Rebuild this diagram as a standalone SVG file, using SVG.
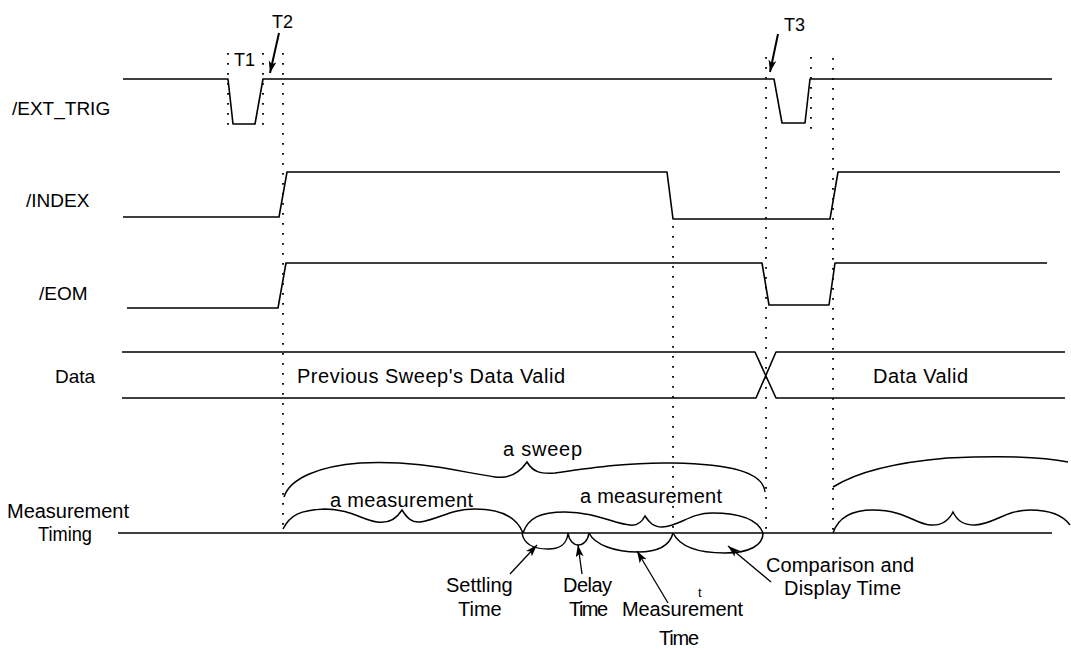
<svg xmlns="http://www.w3.org/2000/svg" width="1071" height="650" viewBox="0 0 1071 650">
<style>
  .sig{fill:none;stroke:#000;stroke-width:1.6;stroke-linejoin:round}
  .dot{fill:none;stroke:#000;stroke-width:1.8;stroke-dasharray:1.8 8.2}
  .brace{fill:none;stroke:#000;stroke-width:1.5}
  .arr{fill:none;stroke:#000;stroke-width:1.3}
  .arrb{fill:none;stroke:#000;stroke-width:2}
  text{font-family:"Liberation Sans",Arial,sans-serif;font-size:20px;fill:#000}
  .lbl{font-size:19px}
  .t{font-size:18px}
</style>
<defs>
  <marker id="ah" markerUnits="userSpaceOnUse" markerWidth="13" markerHeight="9" refX="12" refY="4" orient="auto">
    <path d="M0,0 L12,4 L0,8 L3,4 z" fill="#000"/>
  </marker>
</defs>
<rect width="1071" height="650" fill="#fff"/>

<g id="guides">
  <line class="dot" x1="228" y1="53" x2="228" y2="128"/>
  <line class="dot" x1="263" y1="53" x2="263" y2="130"/>
  <line class="dot" x1="283" y1="53" x2="283" y2="533"/>
  <line class="dot" x1="673" y1="226" x2="673" y2="533"/>
  <line class="dot" x1="766" y1="57" x2="766" y2="533"/>
  <line class="dot" x1="811" y1="57" x2="811" y2="130"/>
  <line class="dot" x1="833" y1="58" x2="833" y2="533"/>
</g>

<g id="ext_trig">
  <text class="lbl" x="12" y="115">/EXT_TRIG</text>
  <path class="sig" d="M123,79 H228 L233,124 H255 L263,79 H774 L782,123 H805 L810,79 H1052"/>
  <text class="t" x="234" y="66">T1</text>
  <text class="t" x="272" y="28">T2</text>
  <text class="t" x="784" y="31">T3</text>
</g>

<g id="index">
  <text class="lbl" x="26" y="207">/INDEX</text>
  <path class="sig" d="M123,217 H279 L287,172 H667 L673,219 H830 L838,172 H1060"/>
</g>

<g id="eom">
  <text class="lbl" x="39" y="300">/EOM</text>
  <path class="sig" d="M127,308 H278 L286,263 H762 L769,305 H829 L835,263 H1047"/>
</g>

<g id="data">
  <text class="lbl" x="55" y="383">Data</text>
  <path class="sig" d="M122,352 H755 L776,398 H1065"/>
  <path class="sig" d="M122,398 H756 L776,352 H1065"/>
  <text x="297" y="383" textLength="268">Previous Sweep's Data Valid</text>
  <text x="873" y="383" textLength="95">Data Valid</text>
</g>

<g id="measurement_timing">
  <text x="7" y="518" textLength="122">Measurement</text>
  <text x="38" y="541" textLength="54" lengthAdjust="spacingAndGlyphs">Timing</text>
  <line class="sig" x1="118" y1="533" x2="1052" y2="533"/>
</g>

<g id="sweep_brace">
  <path class="brace" d="M284,497 C290,478 320,466 360,463 C420,460 460,472 495,477 C510,479 520,472 527,462 C533,472 540,474 555,473 C590,468 630,462 673,463 C730,464 763,472 765,492"/>
  <text x="503" y="456" textLength="79">a sweep</text>
  <path class="brace" d="M833,487 C860,470 900,462 947,458 C990,456 1040,456 1068,462"/>
</g>

<g id="measurement_braces">
  <path class="brace" d="M283,529 C290,515 300,510 325,509 C350,509 362,520 377,522 C390,524 397,518 402,510 C407,518 412,523 420,522 C440,519 450,509 475,509 C505,509 518,520 523,533"/>
  <text x="330" y="507" textLength="143">a measurement</text>
  <path class="brace" d="M523,533 C528,518 540,512 565,512 C595,512 615,524 630,525 C638,526 642,522 645,516 C649,522 653,527 662,527 C680,526 690,513 712,513 C740,513 758,520 763,533"/>
  <text x="580" y="503" textLength="142">a measurement</text>
  <path class="brace" d="M833,533 C838,518 850,510 873,510 C905,510 915,524 930,525 C943,526 949,520 953,512 C957,520 962,525 975,525 C995,524 1005,510 1030,510 C1055,510 1065,518 1070,525"/>
</g>

<g id="phase_arcs">
  <path class="brace" d="M522,533 C524,545 535,549 548,549 C562,549 567,543 568,533"/>
  <path class="brace" d="M568,533 C569,541 574,545 578,545 C583,545 588,541 589,533"/>
  <path class="brace" d="M589,533 C595,545 615,552 638,552 C660,552 670,545 673,533"/>
  <path class="brace" d="M673,533 C680,547 700,553 725,553 C750,553 763,545 763,533"/>
</g>

<g id="phase_labels">
  <text x="446" y="592">Settling</text>
  <text x="458" y="616">Time</text>
  <text x="563" y="592" textLength="49">Delay</text>
  <text x="569" y="616" textLength="39">Time</text>
  <text x="622" y="616" textLength="121">Measurement</text>
  <text x="659" y="645" textLength="40">Time</text>
  <text x="698" y="597" style="font-size:13px">t</text>
  <text x="766" y="572" textLength="148">Comparison and</text>
  <text x="784" y="595" textLength="117">Display Time</text>
</g>

<g id="connectors">
  <line class="arrb" x1="279" y1="33" x2="270" y2="73" marker-end="url(#ah)"/>
  <line class="arrb" x1="778" y1="34" x2="770" y2="72" marker-end="url(#ah)"/>
  <line class="arr" x1="510" y1="574" x2="537" y2="545" marker-end="url(#ah)"/>
  <line class="arr" x1="582" y1="574" x2="578" y2="545" marker-end="url(#ah)"/>
  <line class="arr" x1="668" y1="603" x2="637" y2="551" marker-end="url(#ah)"/>
  <line class="arr" x1="771" y1="582" x2="728" y2="546" marker-end="url(#ah)"/>
</g>
</svg>
